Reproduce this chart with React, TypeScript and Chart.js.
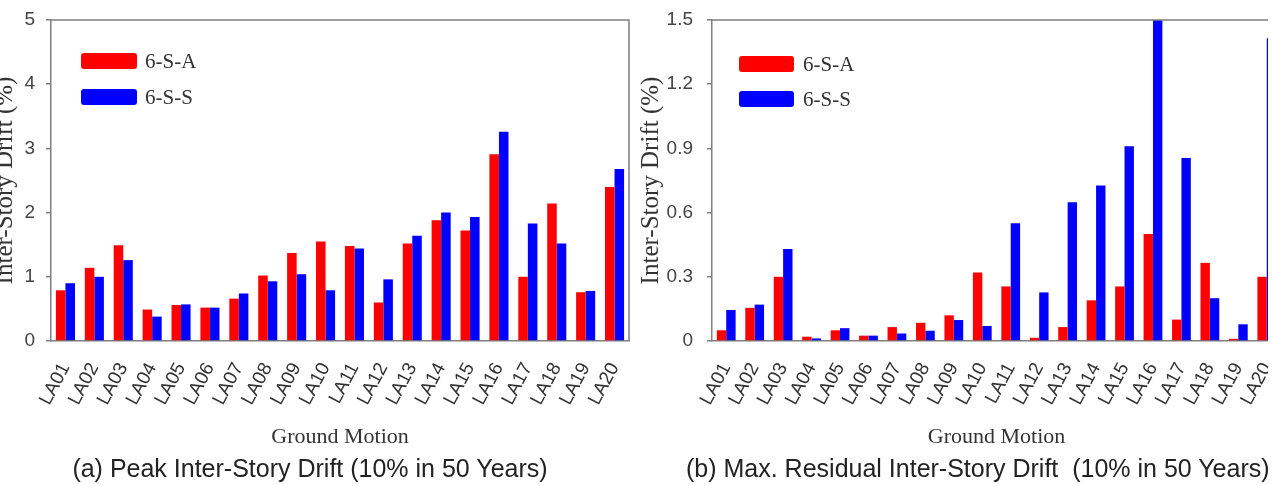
import React, { useEffect, useRef } from "react";
import { Chart, registerables } from "chart.js";

Chart.register(...registerables);

const categories = [
  "LA01", "LA02", "LA03", "LA04", "LA05", "LA06", "LA07", "LA08", "LA09", "LA10",
  "LA11", "LA12", "LA13", "LA14", "LA15", "LA16", "LA17", "LA18", "LA19", "LA20",
];
const seriesNames = ["6-S-A", "6-S-S"];
const seriesColors = ["#ff0000", "#0000ff"];

// (a) Peak inter-story drift (%)
const peakA = [0.79, 1.14, 1.49, 0.49, 0.56, 0.52, 0.66, 1.02, 1.37, 1.55, 1.48, 0.6, 1.52, 1.88, 1.72, 2.91, 1.0, 2.14, 0.76, 2.4];
const peakS = [0.9, 1.0, 1.26, 0.38, 0.57, 0.52, 0.74, 0.93, 1.04, 0.79, 1.44, 0.96, 1.64, 2.0, 1.93, 3.26, 1.83, 1.52, 0.78, 2.68];
// (b) Max. residual inter-story drift (%)
const resA = [0.05, 0.155, 0.3, 0.02, 0.05, 0.025, 0.065, 0.085, 0.12, 0.32, 0.255, 0.015, 0.065, 0.19, 0.255, 0.5, 0.1, 0.365, 0.01, 0.3];
const resS = [0.145, 0.17, 0.43, 0.012, 0.06, 0.025, 0.035, 0.048, 0.098, 0.07, 0.55, 0.227, 0.648, 0.727, 0.91, 1.5, 0.855, 0.2, 0.078, 1.415];

const peakTicks = [0, 1, 2, 3, 4, 5];
const resTicks = [0, 0.3, 0.6, 0.9, 1.2, 1.5];

const yTitleText = "Inter-Story Drift (%)";
const xTitleText = "Ground Motion";
const captionA = "(a) Peak Inter-Story Drift (10% in 50 Years)";
const captionB = "(b) Max. Residual Inter-Story Drift  (10% in 50 Years)";

const SANS = "'Liberation Sans', Arial, sans-serif";
const SERIF = "'Liberation Serif', 'Times New Roman', serif";
const AXIS = "#7f7f7f";

const framePlugin = {
  id: "frame",
  afterDatasetsDraw(chart: any) {
    const { ctx, chartArea } = chart;
    const { left, top, right, bottom } = chartArea;
    ctx.save();
    ctx.strokeStyle = AXIS;
    ctx.lineWidth = 1.5;
    ctx.beginPath();
    ctx.moveTo(left, top);
    ctx.lineTo(right, top);
    ctx.lineTo(right, bottom);
    ctx.stroke();
    ctx.restore();
  },
};

const insideLegendPlugin = {
  id: "insideLegend",
  afterDraw(chart: any, _args: any, opts: any) {
    const { ctx, chartArea } = chart;
    ctx.save();
    chart.data.datasets.forEach((ds: any, i: number) => {
      const x = chartArea.left + opts.dx;
      const y = chartArea.top + opts.dy + i * opts.gap;
      ctx.fillStyle = ds.backgroundColor;
      ctx.beginPath();
      if (ctx.roundRect) ctx.roundRect(x, y, opts.w, opts.h, 3);
      else ctx.rect(x, y, opts.w, opts.h);
      ctx.fill();
      ctx.fillStyle = "#333";
      ctx.font = `21px ${SERIF}`;
      ctx.textAlign = "left";
      ctx.textBaseline = "middle";
      ctx.fillText(ds.label, x + opts.w + opts.textGap, y + opts.h / 2 + 1);
    });
    ctx.restore();
  },
};

type PanelProps = {
  a: number[];
  s: number[];
  ticks: number[];
  fmt: (v: number) => string;
  width: number;
  height: number;
  padRight: number;
  yWidth: number;
  yTitlePad: number;
  yTickPad: number;
  legend: { dx: number; dy: number; gap: number; w: number; h: number; textGap: number };
};

function BarPanel(p: PanelProps) {
  const ref = useRef<HTMLCanvasElement | null>(null);
  useEffect(() => {
    if (!ref.current) return;
    const chart = new Chart(ref.current, {
      type: "bar",
      data: {
        labels: categories,
        datasets: [
          { label: seriesNames[0], data: p.a, backgroundColor: seriesColors[0], borderWidth: 0, categoryPercentage: 0.66, barPercentage: 1 },
          { label: seriesNames[1], data: p.s, backgroundColor: seriesColors[1], borderWidth: 0, categoryPercentage: 0.66, barPercentage: 1 },
        ],
      },
      options: {
        responsive: false,
        animation: false,
        devicePixelRatio: 1,
        layout: { padding: { top: 20, right: p.padRight, left: 0, bottom: 0 } },
        plugins: {
          legend: { display: false },
          tooltip: { enabled: false },
          insideLegend: p.legend,
        } as any,
        scales: {
          x: {
            type: "category",
            grid: { display: false, drawTicks: false },
            border: { display: true, color: AXIS, width: 1.5 },
            ticks: {
              autoSkip: false,
              minRotation: 62,
              maxRotation: 62,
              padding: 18,
              color: "#333",
              font: { family: SANS, size: 19 },
            },
            title: {
              display: true,
              text: xTitleText,
              color: "#333",
              font: { family: SERIF, size: 22 },
              padding: { top: 0, bottom: 34 },
            },
            afterFit: (scale: any) => {
              scale.height = p.height - 341;
              scale.paddingLeft = 0;
              scale.paddingRight = 0;
            },
          },
          y: {
            min: 0,
            max: p.ticks[p.ticks.length - 1],
            afterBuildTicks: (scale: any) => {
              scale.ticks = p.ticks.map((v) => ({ value: v }));
            },
            grid: { display: true, drawOnChartArea: false, drawTicks: true, tickLength: 5, color: AXIS, lineWidth: 1.5 },
            border: { display: true, color: AXIS, width: 1.5 },
            ticks: {
              padding: p.yTickPad,
              color: "#444",
              font: { family: SANS, size: 19 },
              callback: (v: any) => p.fmt(Number(v)),
            },
            title: {
              display: true,
              text: yTitleText,
              color: "#333",
              font: { family: SERIF, size: 25 },
              padding: { top: p.yTitlePad, bottom: 0 },
            },
            afterFit: (scale: any) => {
              scale.width = p.yWidth;
              scale.paddingTop = 0;
              scale.paddingBottom = 0;
            },
          },
        },
      },
      plugins: [framePlugin, insideLegendPlugin],
    } as any);
    return () => chart.destroy();
  }, []);
  return <canvas ref={ref} width={p.width} height={p.height} style={{ width: p.width, height: p.height, display: "block" }} />;
}

export default function App() {
  return (
    <div style={{ position: "absolute", left: 0, top: 0, width: 1272, height: 484, overflow: "hidden", background: "#fff" }}>
      <div style={{ position: "absolute", left: -30, top: 0, width: 666, height: 484 }}>
        <BarPanel
          a={peakA}
          s={peakS}
          ticks={peakTicks}
          fmt={(v) => String(Math.round(v))}
          width={666}
          height={484}
          padRight={7}
          yWidth={81}
          yTitlePad={20}
          yTickPad={11}
          legend={{ dx: 30, dy: 33, gap: 36, w: 56, h: 16, textGap: 8 }}
        />
      </div>
      <div style={{ position: "absolute", left: 636, top: 0, width: 632, height: 484, overflow: "hidden" }}>
        <BarPanel
          a={resA}
          s={resS}
          ticks={resTicks}
          fmt={(v) => (v === 0 ? "0" : v.toFixed(1))}
          width={660}
          height={484}
          padRight={15}
          yWidth={76}
          yTitlePad={0}
          yTickPad={14}
          legend={{ dx: 27, dy: 36, gap: 35, w: 55, h: 16, textGap: 9 }}
        />
      </div>
      <div style={{ position: "absolute", left: 0, top: 453, width: 620, textAlign: "center", font: `25px ${SANS}`, lineHeight: "30px", color: "#222", whiteSpace: "nowrap" }}>
        {captionA}
      </div>
      <div style={{ position: "absolute", left: 686, top: 453, font: `25px ${SANS}`, lineHeight: "30px", color: "#222", whiteSpace: "pre" }}>
        {captionB}
      </div>
    </div>
  );
}
